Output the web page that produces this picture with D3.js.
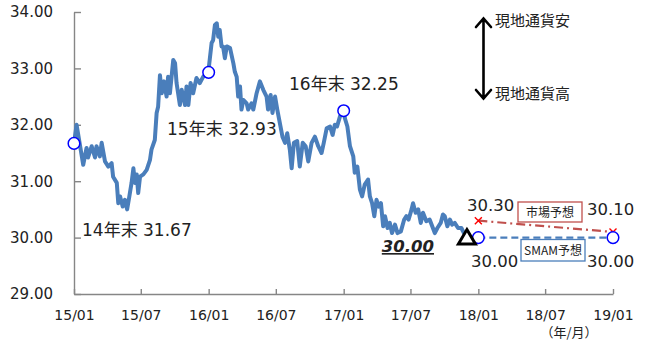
<!DOCTYPE html>
<html>
<head>
<meta charset="utf-8">
<script src="https://cdn.jsdelivr.net/npm/d3@7"></script>
<style>
  html, body { margin: 0; padding: 0; background: #fff; }
  svg { display: block; }
  .num { font-family: "DejaVu Sans", "Noto Sans CJK JP", sans-serif; }
  .jp { font-family: "Noto Sans CJK JP", "DejaVu Sans", sans-serif; }
</style>
</head>
<body>
<svg id="chart" width="649" height="341"></svg>
<script>
// USD/TWD spot rate (weekly-ish sampling), 2015-2017
const rateDates = [
  "2015-01-01","2015-01-08","2015-01-26","2015-02-04","2015-02-08","2015-02-18","2015-02-27","2015-03-03",
  "2015-03-12","2015-03-17","2015-03-26","2015-04-04","2015-04-13","2015-04-17","2015-04-27","2015-05-01",
  "2015-05-06","2015-05-13","2015-05-19","2015-05-25","2015-05-31","2015-06-06","2015-06-11","2015-06-15",
  "2015-06-20","2015-06-24","2015-06-29","2015-07-08","2015-07-17","2015-07-26","2015-07-30","2015-08-08",
  "2015-08-13","2015-08-17","2015-08-22","2015-08-27","2015-09-02","2015-09-09","2015-09-13","2015-09-18",
  "2015-09-27","2015-10-02","2015-10-06","2015-10-15","2015-10-20","2015-10-29","2015-11-02","2015-11-07",
  "2015-11-13","2015-11-20","2015-11-29","2015-12-08","2015-12-17","2015-12-31",
  "2016-01-09","2016-01-13","2016-01-18","2016-01-23","2016-01-27","2016-01-31","2016-02-05","2016-02-09",
  "2016-02-14","2016-02-19","2016-02-28","2016-03-08","2016-03-12","2016-03-17","2016-03-21","2016-03-26",
  "2016-03-30","2016-04-04","2016-04-13","2016-04-17","2016-04-26","2016-05-01","2016-05-10","2016-05-19",
  "2016-05-28","2016-06-06","2016-06-10","2016-06-17","2016-06-22","2016-06-29","2016-07-05","2016-07-12",
  "2016-07-19","2016-07-26","2016-08-01","2016-08-08","2016-08-13","2016-08-19","2016-08-28","2016-09-04",
  "2016-09-12","2016-09-20","2016-09-27","2016-10-06","2016-10-15","2016-10-24","2016-11-02","2016-11-08",
  "2016-11-16","2016-11-25","2016-12-02","2016-12-08","2016-12-14","2016-12-22","2016-12-31",
  "2017-01-04","2017-01-11","2017-01-18","2017-01-27","2017-01-31","2017-02-07","2017-02-14","2017-02-20",
  "2017-02-27","2017-03-08","2017-03-13","2017-03-19","2017-03-25","2017-03-31","2017-04-06","2017-04-12",
  "2017-04-18","2017-04-23","2017-04-30","2017-05-06","2017-05-12","2017-05-20","2017-05-27","2017-06-05",
  "2017-06-14","2017-06-20","2017-06-26","2017-07-04","2017-07-08","2017-07-15","2017-07-22","2017-07-29",
  "2017-08-04","2017-08-13","2017-08-22","2017-08-29","2017-09-05","2017-09-12","2017-09-21","2017-09-27",
  "2017-10-02","2017-10-09","2017-10-16","2017-10-22","2017-10-29","2017-11-07","2017-11-16","2017-11-23"
];
const rateValues = [
  31.67,32.00,31.29,31.59,31.42,31.62,31.42,31.62,
  31.44,31.68,31.35,31.26,31.32,31.08,30.97,30.61,
  30.73,30.55,30.67,30.50,30.73,30.97,31.23,30.97,
  31.12,30.79,31.08,31.12,31.20,31.38,31.56,31.73,
  32.21,32.32,32.88,32.56,32.77,32.50,32.85,32.56,
  33.15,33.09,32.74,32.35,32.62,32.35,32.68,32.35,
  32.74,32.56,32.83,32.74,32.85,32.93,
  33.45,33.50,33.77,33.80,33.56,33.68,33.39,33.39,
  33.18,33.39,33.36,33.09,32.94,32.85,32.50,32.68,
  32.27,32.44,32.38,32.27,32.38,32.27,32.56,32.77,
  32.62,32.50,32.27,32.53,32.21,32.50,32.27,32.03,
  31.79,31.68,31.85,31.56,31.23,31.68,31.71,31.26,
  31.68,31.62,31.35,31.68,31.79,31.62,31.50,31.68,
  31.94,31.97,31.82,32.00,31.97,32.15,32.25,
  32.12,31.97,31.62,31.44,31.15,31.26,30.85,30.73,
  30.94,31.03,30.73,30.61,30.38,30.67,30.55,30.61,
  30.20,30.38,30.17,30.26,30.08,30.23,30.08,30.11,
  30.32,30.38,30.32,30.50,30.61,30.44,30.50,30.26,
  30.44,30.29,30.32,30.20,30.08,30.17,30.26,30.41,
  30.38,30.20,30.32,30.23,30.26,30.17,30.17,30.08
];

// Year-end markers with their labels
const yearEndDates = ["2015-01-01","2016-01-01","2017-01-01"];
const yearEndValues = [31.67, 32.93, 32.25];
const yearEndLabels = ["14年末 31.67", "15年末 32.93", "16年末 32.25"];

// Current level and forecasts (end-2017, end-2018)
const currentDate = "2017-12-01";
const currentValue = 30.00;
const forecastDates = ["2018-01-01","2019-01-01"];
const smamForecast = [30.00, 30.00];
const marketForecast = [30.30, 30.10];

// Axis ticks
const yTicks = [29, 30, 31, 32, 33, 34];
const xTickDates = ["2015-01-01","2015-07-01","2016-01-01","2016-07-01","2017-01-01",
                    "2017-07-01","2018-01-01","2018-07-01","2019-01-01"];

const parse = d3.timeParse("%Y-%m-%d");
const svg = d3.select("#chart");

const x = d3.scaleTime()
  .domain([parse("2015-01-01"), parse("2019-01-01")])
  .range([74, 613]);
const y = d3.scaleLinear().domain([29, 34]).range([294, 12]);

const axisColor = "#868686";
const lineBlue = "#4a7ebb";

// y axis: ticks point into the plot
const yAxis = svg.append("g").attr("transform", "translate(74,0)")
  .call(d3.axisLeft(y).tickValues(yTicks).tickSizeInner(-7).tickSizeOuter(0)
    .tickPadding(21).tickFormat(d3.format(".2f")));
yAxis.select(".domain").attr("stroke", axisColor).attr("stroke-width", 1.4);
yAxis.selectAll(".tick line").attr("stroke", axisColor).attr("stroke-width", 1.4);
yAxis.selectAll(".tick text").attr("class", "num").attr("font-size", 15).attr("fill", "#222");

// x axis
const xAxis = svg.append("g").attr("transform", "translate(0,294)")
  .call(d3.axisBottom(x).tickValues(xTickDates.map(parse)).tickSizeInner(-5).tickSizeOuter(0)
    .tickPadding(16).tickFormat(d3.timeFormat("%y/%m")));
xAxis.select(".domain").attr("stroke", axisColor).attr("stroke-width", 1.4);
xAxis.selectAll(".tick line").attr("stroke", axisColor).attr("stroke-width", 1.4);
xAxis.selectAll(".tick text").attr("class", "num").attr("font-size", 14).attr("fill", "#222");

svg.append("text").attr("class", "jp").attr("x", 569).attr("y", 337)
  .attr("text-anchor", "middle").attr("font-size", 13).attr("fill", "#222").text("（年/月）");

// Spot rate line
const series = rateDates.map((d, i) => ({ date: parse(d), value: rateValues[i] }));
svg.append("path").datum(series)
  .attr("fill", "none").attr("stroke", lineBlue).attr("stroke-width", 4)
  .attr("stroke-linejoin", "round").attr("stroke-linecap", "round")
  .attr("d", d3.line().x(d => x(d.date)).y(d => y(d.value)));

// Forecast lines
const fDates = forecastDates.map(parse);
svg.append("path")
  .datum(fDates.map((d, i) => ({ date: d, value: marketForecast[i] })))
  .attr("fill", "none").attr("stroke", "#c0504d").attr("stroke-width", 2.2)
  .attr("stroke-dasharray", "9,4,2,4")
  .attr("d", d3.line().x(d => x(d.date)).y(d => y(d.value)));
svg.append("path")
  .datum(fDates.map((d, i) => ({ date: d, value: smamForecast[i] })))
  .attr("fill", "none").attr("stroke", lineBlue).attr("stroke-width", 2.4)
  .attr("stroke-dasharray", "7,4")
  .attr("d", d3.line().x(d => x(d.date)).y(d => y(d.value)));

// Market forecast cross markers
fDates.forEach((d, i) => {
  const cx = x(d), cy = y(marketForecast[i]), s = 3.5;
  svg.append("path")
    .attr("d", `M${cx - s},${cy - s}L${cx + s},${cy + s}M${cx - s},${cy + s}L${cx + s},${cy - s}`)
    .attr("stroke", "#ff0000").attr("stroke-width", 1.4);
});

// Open circle markers: year-ends and SMAM forecasts
const circles = yearEndDates.map((d, i) => ({ date: parse(d), value: yearEndValues[i] }))
  .concat(fDates.map((d, i) => ({ date: d, value: smamForecast[i] })));
svg.selectAll("circle.mk").data(circles).enter().append("circle")
  .attr("class", "mk")
  .attr("cx", d => x(d.date)).attr("cy", d => y(d.value)).attr("r", 5.8)
  .attr("fill", "#fff").attr("stroke", "#0000ff").attr("stroke-width", 1.5);

// Current level triangle
{
  const cx = x(parse(currentDate)), cy = y(currentValue);
  svg.append("path")
    .attr("d", `M${cx},${cy - 8}L${cx + 8.5},${cy + 6.5}L${cx - 8.5},${cy + 6.5}Z`)
    .attr("fill", "#fff").attr("stroke", "#000").attr("stroke-width", 3)
    .attr("stroke-linejoin", "miter");
}

// Year-end labels
const yearEndLabelPos = [[82, 236], [167, 135], [289, 90]];
yearEndLabels.forEach((t, i) => {
  svg.append("text").attr("class", "num").attr("font-size", 17).attr("fill", "#222")
    .attr("x", yearEndLabelPos[i][0]).attr("y", yearEndLabelPos[i][1]).text(t);
});

// Current value label (bold italic, underlined)
svg.append("text").attr("class", "num").attr("font-size", 16.5).attr("font-weight", "bold")
  .attr("font-style", "italic").attr("text-decoration", "underline").attr("fill", "#222")
  .attr("x", 434).attr("y", 252).attr("text-anchor", "end").text(d3.format(".2f")(currentValue));

// Forecast value labels
const fmt = d3.format(".2f");
const fLabel = (tx, ty, v) => svg.append("text").attr("class", "num").attr("font-size", 16.5)
  .attr("fill", "#222").attr("x", tx).attr("y", ty).text(fmt(v));
fLabel(467, 211, marketForecast[0]);
fLabel(587, 215, marketForecast[1]);
fLabel(471, 267, smamForecast[0]);
fLabel(587, 267, smamForecast[1]);

// Forecast legend boxes
const box = (bx, by, w, h, color, label) => {
  svg.append("rect").attr("x", bx).attr("y", by).attr("width", w).attr("height", h)
    .attr("fill", "#fff").attr("stroke", color).attr("stroke-width", 1.3);
  svg.append("text").attr("class", "jp").attr("font-size", 12).attr("fill", "#222")
    .attr("x", bx + w / 2).attr("y", by + h / 2 + 4.5).attr("text-anchor", "middle").text(label);
};
box(518, 202, 64, 20, "#c0504d", "市場予想");
box(521, 239.5, 64, 21.5, lineBlue, "SMAM予想");

// Direction arrow
svg.append("path")
  .attr("d", "M483.5,19L483.5,98M476,27L483.5,18.5L491,27M476,90L483.5,98.5L491,90")
  .attr("fill", "none").attr("stroke", "#000").attr("stroke-width", 2.6)
  .attr("stroke-linecap", "round").attr("stroke-linejoin", "miter");
svg.append("text").attr("class", "jp").attr("font-size", 15).attr("fill", "#222")
  .attr("x", 495).attr("y", 26).text("現地通貨安");
svg.append("text").attr("class", "jp").attr("font-size", 15).attr("fill", "#222")
  .attr("x", 495).attr("y", 99).text("現地通貨高");
</script>
</body>
</html>
